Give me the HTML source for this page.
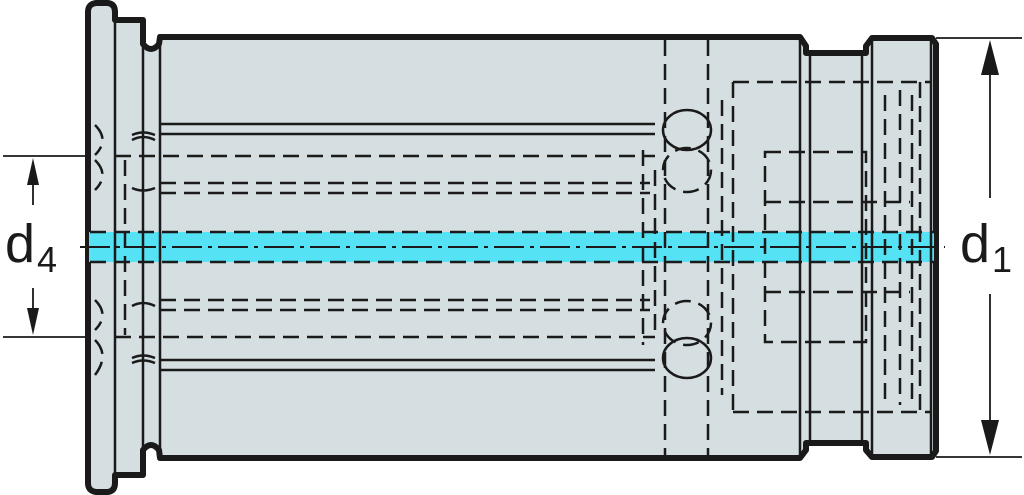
<!DOCTYPE html>
<html><head><style>html,body{margin:0;padding:0;background:#fff}svg{display:block}</style></head>
<body>
<svg width="1024" height="495" viewBox="0 0 1024 495" xmlns="http://www.w3.org/2000/svg">
<g stroke="#1a1a1a" fill="none">
<path d="M88,12 Q88,4 96,3 L108,3 Q115,4 115,12 L115,20 L143,20 L143,44 Q151,54 159,44 L160,37 L800,37 L806,46 L806,53 L866,53 L866,46 L872,38 L932,38 L936,44 L936,451 L932,457 L872,457 L866,450 L866,443 L806,443 L806,450 L800,458 L160,458 L159,450 Q151,440 143,450 L143,475 L115,475 L115,483 Q115,491 108,492 L96,492 Q88,491 88,483 Z" fill="#d5dee1" stroke-width="6" stroke-linejoin="round"/>
<rect x="89" y="232" width="845" height="30" fill="#55e2f5" stroke="none"/>
<g stroke-width="2.5">
<line x1="115" y1="20" x2="115" y2="475"/>
<line x1="143" y1="44" x2="143" y2="450"/>
<line x1="160" y1="37" x2="160" y2="458"/>
<line x1="800" y1="40" x2="800" y2="455"/>
<line x1="810" y1="53" x2="810" y2="443"/>
<line x1="862" y1="53" x2="862" y2="443"/>
<line x1="872" y1="40" x2="872" y2="455"/>
<line x1="931" y1="40" x2="931" y2="455"/>
<line x1="160" y1="124" x2="655" y2="124"/>
<line x1="160" y1="134" x2="655" y2="134"/>
<line x1="160" y1="360" x2="655" y2="360"/>
<line x1="160" y1="370" x2="655" y2="370"/>
<ellipse cx="687" cy="130" rx="24" ry="20"/>
<ellipse cx="687" cy="358" rx="24" ry="20"/>
<path d="M132,135 Q143,130 155,135 M132,140 Q143,134 155,140 M132,188 Q143,193 155,188 M132,306 Q143,300 155,306 M132,358 Q143,353 155,358 M132,363 Q143,358 155,363"/>
</g>
<g stroke-width="2.5" stroke-dasharray="16,8">
<line x1="115" y1="156" x2="655" y2="156"/>
<line x1="160" y1="183" x2="650" y2="183"/>
<line x1="160" y1="193" x2="650" y2="193"/>
<line x1="160" y1="300" x2="650" y2="300"/>
<line x1="160" y1="310" x2="650" y2="310"/>
<line x1="115" y1="337" x2="655" y2="337"/>
<line x1="90" y1="232" x2="934" y2="232"/>
<line x1="90" y1="262" x2="934" y2="262"/>
<line x1="125" y1="160" x2="125" y2="335"/>
<line x1="665" y1="40" x2="665" y2="455"/>
<line x1="708" y1="40" x2="708" y2="455"/>
<line x1="643" y1="150" x2="643" y2="345"/>
<line x1="655" y1="170" x2="655" y2="330"/>
<ellipse cx="687" cy="170" rx="24" ry="22"/>
<ellipse cx="687" cy="323" rx="24" ry="22"/>
<path d="M733,82 L930,82 M733,412 L930,412 M733,82 L733,412 M722,100 L722,395"/>
<path d="M765,152 L866,152 L866,342 L765,342 Z M765,202 L910,202 M765,292 L910,292"/>
<path d="M885,95 L885,400 M900,90 L900,405 M912,95 L912,400 M920,82 L920,412"/>
<path d="M95,125 Q110,140 95,155 M95,160 Q110,175 95,190 M95,300 Q110,315 95,330 M95,340 Q110,355 95,375"/>
</g>
<g stroke-width="2" stroke-dasharray="30,6,4,6">
<line x1="80" y1="247" x2="945" y2="247"/>
</g>
<g stroke-width="1.8">
<line x1="3" y1="156" x2="90" y2="156"/>
<line x1="3" y1="337" x2="90" y2="337"/>
<line x1="33" y1="185" x2="33" y2="205"/>
<line x1="33" y1="288" x2="33" y2="310"/>
<line x1="936" y1="38" x2="1022" y2="38"/>
<line x1="936" y1="457" x2="1022" y2="457"/>
<line x1="990" y1="70" x2="990" y2="198"/>
<line x1="990" y1="294" x2="990" y2="425"/>
</g>
</g>
<g fill="#1a1a1a">
<polygon points="33,158 27,185 39,185"/>
<polygon points="33,335 27,308 39,308"/>
<polygon points="990,40 981,75 999,75"/>
<polygon points="990,455 981,420 999,420"/>
</g>
<g font-family="Liberation Sans, sans-serif" fill="#1a1a1a">
<text x="5" y="262" font-size="54">d</text>
<text x="37" y="272" font-size="36">4</text>
<text x="960" y="262" font-size="54">d</text>
<text x="992" y="272" font-size="36">1</text>
</g>
</svg>
</body></html>
